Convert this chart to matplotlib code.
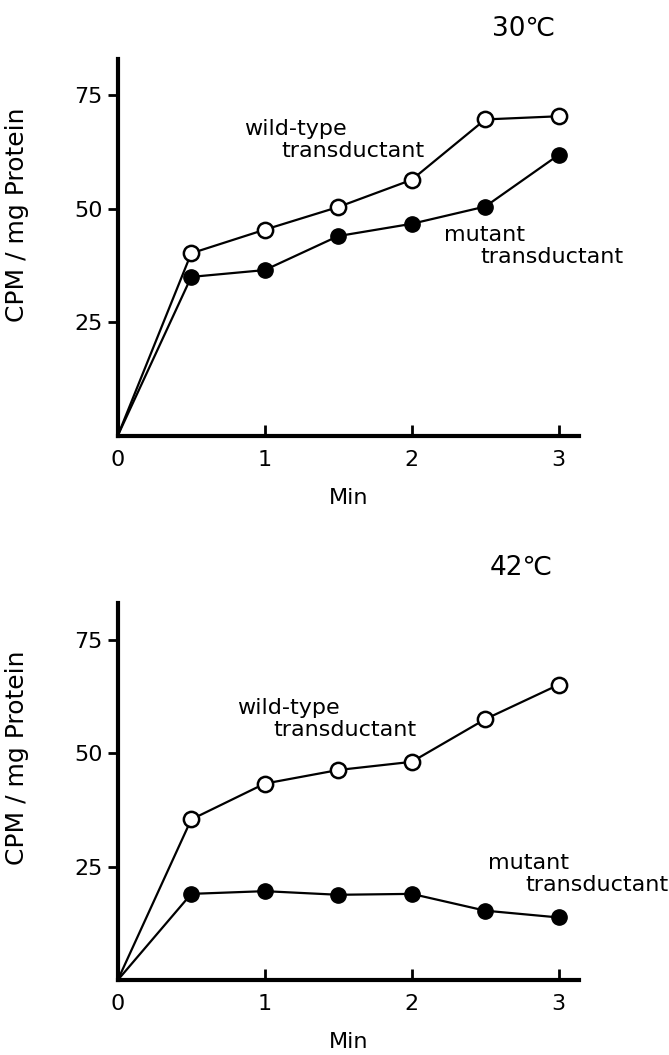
import matplotlib.pyplot as plt

# time points (min), origin included
minutes = [0, 0.5, 1, 1.5, 2, 2.5, 3]

# 30 C panel
wild_30 = [0, 40.2, 45.4, 50.4, 56.4, 69.7, 70.4]
mutant_30 = [0, 35.0, 36.5, 44.0, 46.7, 50.5, 61.9]

# 42 C panel
wild_42 = [0, 35.4, 43.3, 46.3, 48.1, 57.5, 65.1]
mutant_42 = [0, 19.0, 19.6, 18.8, 19.0, 15.3, 13.8]

# label anchors (data coords): wild-type line 1, line 2, mutant line 1, line 2
panels = [
    {"title": "30℃", "wild": wild_30, "mutant": mutant_30,
     "rect": [0.176, 0.587, 0.69, 0.357], "title_xy": (0.783, 0.973),
     "labels": [(0.86, 67.6), (1.11, 62.8), (2.22, 44.2), (2.47, 39.4)],
     "ylab_y": 0.588, "xlab_pad": 13},
    {"title": "42℃", "wild": wild_42, "mutant": mutant_42,
     "rect": [0.176, 0.071, 0.69, 0.357], "title_xy": (0.779, 0.462),
     "labels": [(0.81, 60.0), (1.06, 55.1), (2.52, 25.7), (2.77, 20.9)],
     "ylab_y": 0.59, "xlab_pad": 13},
]

plt.rcParams['font.family'] = ['DejaVu Sans']

fig = plt.figure(figsize=(6.69, 10.55), dpi=100)
pts = list(range(1, len(minutes)))

for p in panels:
    ax = fig.add_axes(p["rect"])
    ax.plot(minutes, p["wild"], color="black", lw=1.6, marker="o", markersize=11,
            markerfacecolor="white", markeredgecolor="black", markeredgewidth=1.8,
            markevery=pts)
    ax.plot(minutes, p["mutant"], color="black", lw=1.6, marker="o", markersize=11,
            markerfacecolor="black", markeredgecolor="black", markevery=pts)

    ax.set_xlim(0, 3.14)
    ax.set_ylim(0, 83)
    ax.spines["top"].set_visible(False)
    ax.spines["right"].set_visible(False)
    ax.spines["left"].set_linewidth(3)
    ax.spines["bottom"].set_linewidth(3)

    ax.set_xticks([0, 1, 2, 3])
    ax.set_yticks([25, 50, 75])
    ax.tick_params(axis="x", direction="in", length=8, width=2, labelsize=16, pad=10)
    ax.tick_params(axis="y", direction="out", length=7, width=2, labelsize=16, pad=4)

    ax.set_xlabel("Min", fontsize=16, labelpad=p["xlab_pad"])
    ax.set_ylabel("CPM / mg Protein", fontsize=18)
    ax.yaxis.set_label_coords(-0.193, p["ylab_y"])

    fig.text(p["title_xy"][0], p["title_xy"][1], p["title"], fontsize=19,
             ha="center", va="center")
    texts = ["wild-type", "transductant", "mutant", "transductant"]
    for (tx, ty), s in zip(p["labels"], texts):
        ax.text(tx, ty, s, fontsize=16, ha="left", va="center")

fig.savefig("out.png", dpi=100, facecolor="white")
